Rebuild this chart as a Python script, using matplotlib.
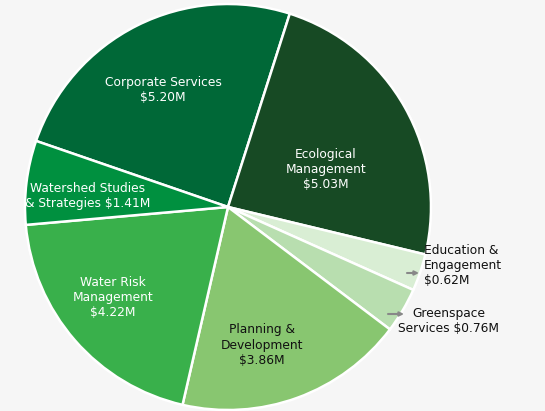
import matplotlib
matplotlib.use('Agg')
import matplotlib.pyplot as plt

# budget by service area, $M (clockwise from Corporate Services)
categories = ['Corporate Services', 'Ecological Management', 'Education & Engagement',
              'Greenspace Services', 'Planning & Development', 'Water Risk Management',
              'Watershed Studies & Strategies']
values = [5.20, 5.03, 0.62, 0.76, 3.86, 4.22, 1.41]
colors = ['#006837', '#174a24', '#d9eed4', '#b8deaf', '#88c670', '#39b04b', '#00903f']
labels = ['Corporate Services\n$5.20M', 'Ecological\nManagement\n$5.03M',
          'Education &\nEngagement\n$0.62M', 'Greenspace\nServices $0.76M',
          'Planning &\nDevelopment\n$3.86M', 'Water Risk\nManagement\n$4.22M',
          'Watershed Studies\n& Strategies $1.41M']

W, H = 545, 411
bg = '#f6f6f6'

fig = plt.figure(figsize=(W / 100, H / 100), dpi=100, facecolor=bg)
ax = fig.add_axes([0, 0, 1, 1])
ax.set_facecolor(bg)

# pixel coords (y measured from top) converted to data coords
cx, cy, r = 228, 207, 203
ax.pie(values, colors=colors, startangle=161, counterclock=False,
       center=(cx, H - cy), radius=r,
       wedgeprops=dict(edgecolor='white', linewidth=1.8))

ax.set_xlim(0, W)
ax.set_ylim(0, H)
ax.set_aspect('equal')
ax.axis('off')

# label placement: (x, y, color, align)
pos = [(163, 90, 'white', 'center'),
       (326, 170, 'white', 'center'),
       (424, 266, '#111111', 'left'),
       (449, 321, '#111111', 'center'),
       (262, 345, '#111111', 'center'),
       (113, 297, 'white', 'center'),
       (88, 196, 'white', 'center')]

for lab, (x, y, c, ha) in zip(labels, pos):
    ax.text(x, H - y, lab, color=c, ha=ha, va='center', fontsize=8.8,
            family='DejaVu Sans', linespacing=1.2, multialignment=ha)

# small pointer arrows for the thin slices
for x0, x1, y in [(407, 419, 273), (388, 404, 314)]:
    ax.annotate('', xy=(x1, H - y), xytext=(x0, H - y),
                arrowprops=dict(arrowstyle='-|>', color='#888888', lw=1.5,
                                mutation_scale=6, shrinkA=0, shrinkB=0))

plt.savefig('out.png', dpi=100, facecolor=bg)
